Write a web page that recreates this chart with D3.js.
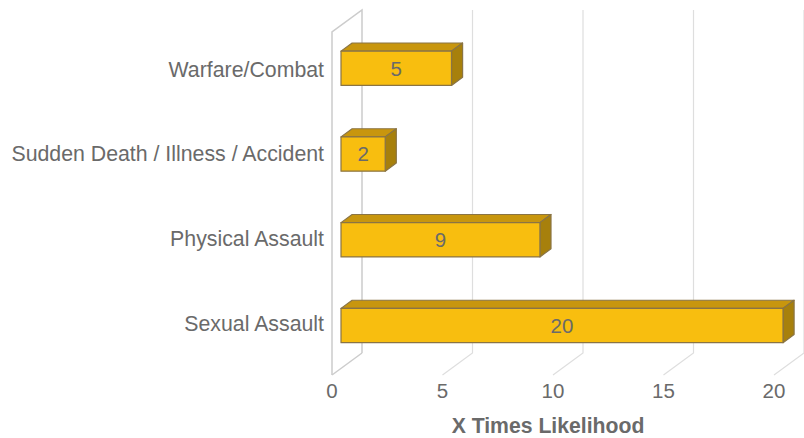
<!DOCTYPE html>
<html>
<head>
<meta charset="utf-8">
<script src="https://cdn.jsdelivr.net/npm/d3@7"></script>
<style>
  body { margin: 0; background: #fff; }
  svg text { font-family: "Liberation Sans", Arial, sans-serif; }
</style>
</head>
<body>
<svg></svg>
<script>
// data
const categories = ['Warfare/Combat', 'Sudden Death / Illness / Accident', 'Physical Assault', 'Sexual Assault'];
const values = [5, 2, 9, 20];
const ticks = [0, 5, 10, 15, 20];
const axisTitle = 'X Times Likelihood';

const s = {
  width: 804,
  height: 438,
  // front plane of the 3d box
  left: 332, right: 774, top: 32, bottom: 375,
  depthX: 30, depthY: -22,
  barFront: 0.3, barBack: 0.67,
};

const colors = {
  front: '#f8be0f',
  top: '#c8960e',
  side: '#a7800c',
  stroke: '#8a7444',
  wall: '#cccccc',
  grid: '#dedede',
  text: '#6a6a6a',
};

// project a point on the front plane back by depth z (0..1)
function proj(x, y, z) {
  return [x + s.depthX * z, y + s.depthY * z];
}

window.onload = () => {
  const svg = d3.select('svg')
      .attr('width', s.width)
      .attr('height', s.height);

  const x = d3.scaleLinear().domain([0, 20]).range([s.left, s.right]);
  const y = d3.scaleBand().domain(categories).range([s.top, s.bottom])
      .paddingInner(0.6).paddingOuter(0.3);
  const yLabel = d3.scalePoint().domain(categories).range([69, 323]);

  const line = d3.line();

  // left wall
  svg.append('path')
      .attr('d', line([proj(s.left, s.bottom, 0), proj(s.left, s.top, 0), proj(s.left, s.top, 1), proj(s.left, s.bottom, 1)]))
      .attr('fill', 'none')
      .attr('stroke', colors.wall)
      .attr('stroke-width', 1.5);

  // grid on back wall + floor
  svg.append('g').selectAll('path')
    .data(ticks.slice(1))
    .join('path')
      .attr('d', d => line([proj(x(d), s.top, 1), proj(x(d), s.bottom, 1), proj(x(d), s.bottom, 0)]))
      .attr('fill', 'none')
      .attr('stroke', colors.grid)
      .attr('stroke-width', 1.2);

  svg.append('path')
      .attr('d', line([proj(x(0), s.bottom, 1), proj(x(0), s.bottom, 0)]))
      .attr('stroke', colors.wall)
      .attr('stroke-width', 1.5);

  // bars
  const bars = svg.append('g').selectAll('g')
    .data(categories.map((c, i) => ({ c, v: values[i] })))
    .join('g');

  function face(d, which) {
    const x0 = x(0), x1 = x(d.v), y0 = y(d.c), y1 = y(d.c) + y.bandwidth();
    const f = s.barFront, b = s.barBack;
    if (which === 'front') return [proj(x0, y0, f), proj(x1, y0, f), proj(x1, y1, f), proj(x0, y1, f)];
    if (which === 'top') return [proj(x0, y0, f), proj(x0, y0, b), proj(x1, y0, b), proj(x1, y0, f)];
    return [proj(x1, y0, f), proj(x1, y0, b), proj(x1, y1, b), proj(x1, y1, f)];
  }

  ['top', 'side', 'front'].forEach(which => {
    bars.append('path')
        .attr('d', d => line(face(d, which)) + 'Z')
        .attr('fill', colors[which])
        .attr('stroke', colors.stroke)
        .attr('stroke-width', 1.2)
        .attr('stroke-linejoin', 'round');
  });

  bars.append('text')
      .attr('x', d => proj((x(0) + x(d.v)) / 2, 0, s.barFront)[0])
      .attr('y', d => proj(0, y(d.c) + y.bandwidth() / 2, s.barFront)[1])
      .attr('dy', '0.36em')
      .attr('text-anchor', 'middle')
      .attr('font-size', 20.5)
      .attr('fill', colors.text)
      .text(d => d.v);

  // category labels
  svg.append('g').selectAll('text')
    .data(categories)
    .join('text')
      .attr('x', 324)
      .attr('y', d => yLabel(d))
      .attr('dy', '0.36em')
      .attr('text-anchor', 'end')
      .attr('font-size', 21.3)
      .attr('fill', colors.text)
      .text(d => d);

  // x tick labels
  svg.append('g').selectAll('text')
    .data(ticks)
    .join('text')
      .attr('x', d => x(d))
      .attr('y', 398)
      .attr('text-anchor', 'middle')
      .attr('font-size', 20.5)
      .attr('fill', colors.text)
      .text(d => d);

  svg.append('text')
      .attr('x', 548)
      .attr('y', 433)
      .attr('text-anchor', 'middle')
      .attr('font-size', 21.2)
      .attr('font-weight', 'bold')
      .attr('fill', colors.text)
      .text(axisTitle);
};
</script>
</body>
</html>
